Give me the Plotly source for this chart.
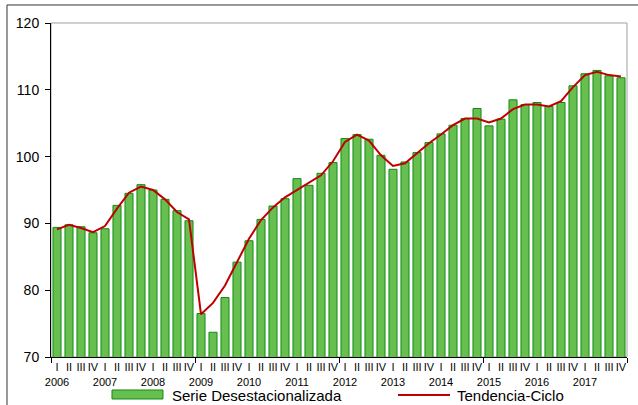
import plotly.graph_objects as go

years = [str(y) for y in range(2006, 2018)]
quarters = ["I", "II", "III", "IV"]

serie = [89.4, 89.8, 89.5, 88.6,
         89.2, 92.7, 94.5, 95.8,
         95.0, 93.6, 91.9, 90.4,
         76.5, 73.7, 78.9, 84.2,
         87.4, 90.6, 92.6, 93.7,
         96.7, 95.7, 97.5, 99.1,
         102.7, 103.3, 102.6, 100.2,
         98.1, 99.2, 100.6, 102.1,
         103.4, 104.7, 105.7, 107.2,
         104.6, 105.6, 108.5, 107.8,
         108.1, 107.5, 108.1, 110.6,
         112.4, 112.9, 112.1, 111.8]

tendencia = [89.1, 89.8, 89.3, 88.7,
             89.6, 92.2, 94.6, 95.5,
             95.0, 93.6, 91.7, 90.6,
             76.4, 78.1, 80.7, 84.2,
             87.7, 90.5, 92.4, 93.9,
             95.0, 96.0, 97.2, 99.3,
             102.2, 103.3, 102.4, 100.2,
             98.6, 99.0, 100.5, 102.0,
             103.3, 104.7, 105.7, 105.7,
             105.1, 105.7, 107.1, 107.8,
             107.8, 107.5, 108.3, 110.4,
             112.2, 112.7, 112.2, 112.0]

x = list(range(len(serie)))
ticktext = []
for y in years:
    for q in quarters:
        ticktext.append(q + "<br>" + y if q == "I" else q)

fig = go.Figure()
fig.add_trace(go.Bar(x=x, y=serie, name="Serie Desestacionalizada",
                     marker=dict(color="#66BF4F", line=dict(color="#138A13", width=1)),
                     showlegend=False))
fig.add_trace(go.Scatter(x=x, y=tendencia, name="Tendencia-Ciclo", mode="lines",
                         line=dict(color="#C00000", width=2), showlegend=False))

fig.update_layout(
    width=638, height=405,
    margin=dict(l=51, r=11, t=23, b=48),
    paper_bgcolor="white", plot_bgcolor="white",
    bargap=0.33,
    font=dict(family="Liberation Sans, Arial, sans-serif", color="black"),
    xaxis=dict(range=[-0.5, 47.5], tickmode="array", tickvals=x, ticktext=ticktext,
               ticks="", showgrid=False, zeroline=False,
               showline=True, linecolor="black", linewidth=1,
               tickfont=dict(size=11, color="black"), tickangle=0, automargin=False,
               minor=dict(tickmode="array", tickvals=[-0.5, 11.5, 23.5, 35.5, 47.5],
                          ticks="outside", ticklen=5, tickcolor="black", showgrid=False)),
    yaxis=dict(range=[70, 120], tickvals=[70, 80, 90, 100, 110, 120],
               ticks="outside", ticklen=5, tickcolor="black",
               showgrid=False, zeroline=False, automargin=False,
               showline=True, linecolor="black", linewidth=1,
               ticklabelstandoff=3,
               tickfont=dict(size=14, color="black")),
    shapes=[
        dict(type="rect", xref="paper", yref="paper", x0=0, x1=1, y0=0, y1=1,
             line=dict(color="#A0A0A0", width=1), layer="below"),
        dict(type="rect", xref="paper", yref="paper", x0=-0.0764, x1=1.05, y0=-0.3, y1=1.0539,
             line=dict(color="#333333", width=1), layer="below"),
        dict(type="rect", xref="paper", yref="paper", x0=0.1059, x1=0.1944, y0=-0.0988, y1=-0.1257,
             fillcolor="#66BF4F", line=dict(color="#138A13", width=1)),
        dict(type="line", xref="paper", yref="paper", x0=0.6024, x1=0.6927, y0=-0.1138, y1=-0.1138,
             line=dict(color="#C00000", width=2)),
    ],
    annotations=[
        dict(text="Serie Desestacionalizada", xref="paper", yref="paper", x=0.2066, y=-0.1138,
             xanchor="left", yanchor="middle", showarrow=False, font=dict(size=15, color="black")),
        dict(text="Tendencia-Ciclo", xref="paper", yref="paper", x=0.7014, y=-0.1138,
             xanchor="left", yanchor="middle", showarrow=False, font=dict(size=15, color="black")),
    ],
)

fig.write_html("out.html", config={"displayModeBar": False},
               post_script="document.body.style.margin='0';document.body.style.overflow='hidden';")
